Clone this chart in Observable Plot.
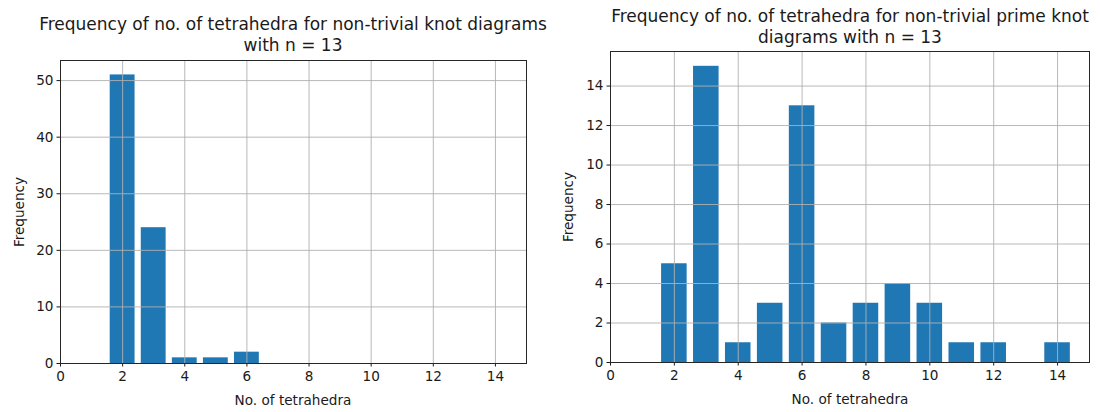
<!DOCTYPE html>
<html><head><meta charset="utf-8">
<script src="https://cdn.jsdelivr.net/npm/d3@7"></script>
<script src="https://cdn.jsdelivr.net/npm/@observablehq/plot@0.6"></script>
<style>
body{margin:0;background:#fff;}
#wrap{position:relative;width:1100px;height:412px;font-family:"DejaVu Sans",sans-serif;color:#1a1a1a;overflow:hidden;}
.panel{position:absolute;top:0;}
.t{position:absolute;text-align:center;font-size:17px;line-height:21px;white-space:pre;transform:translateX(-50%);}
.xl{position:absolute;font-size:13.6px;transform:translate(-50%,-50%);white-space:nowrap;}
.yl{position:absolute;font-size:13.6px;transform:translate(-50%,-50%) rotate(-90deg);white-space:nowrap;}
</style></head><body><div id="wrap"></div>
<script>
const tetrahedraAll = [2, 3, 4, 5, 6];
const freqAll = [51, 24, 1, 1, 2];
const tetrahedraPrime = [2, 3, 4, 5, 6, 7, 8, 9, 10, 11, 12, 14];
const freqPrime = [5, 15, 1, 3, 13, 2, 3, 4, 3, 1, 1, 1];
const xTicks = [0, 2, 4, 6, 8, 10, 12, 14];
const yTicksAll = [0, 10, 20, 30, 40, 50];
const yTicksPrime = [0, 2, 4, 6, 8, 10, 12, 14];
const titleAll = "Frequency of no. of tetrahedra for non-trivial knot diagrams\nwith n = 13";
const titlePrime = "Frequency of no. of tetrahedra for non-trivial prime knot\ndiagrams with n = 13";
const xLabel = "No. of tetrahedra";
const yLabel = "Frequency";

function panel(xs, ys, yTicks, width, ml, mr, mt, mb) {
  const data = xs.map((x, i) => ({x, y: ys[i]}));
  const yMax = d3.max(ys) * 1.05;
  return Plot.plot({
    width, height: 412,
    marginLeft: ml, marginRight: mr, marginTop: mt, marginBottom: mb,
    x: {domain: [0, 15]},
    y: {domain: [0, yMax]},
    style: {fontFamily: "DejaVu Sans", fontSize: "13.6px", color: "#1a1a1a", background: "transparent"},
    marks: [
      Plot.rectY(data, {x1: d => d.x - 0.4, x2: d => d.x + 0.4, y1: 0, y2: "y", fill: "#1f77b4"}),
      Plot.gridX(xTicks, {stroke: "#b0b0b0", strokeOpacity: 1, strokeWidth: 0.9}),
      Plot.gridY(yTicks, {stroke: "#b0b0b0", strokeOpacity: 1, strokeWidth: 0.9}),
      Plot.axisX(xTicks, {tickSize: 3.5, tickPadding: 4.5, label: null, tickFormat: d => String(d)}),
      Plot.axisY(yTicks, {tickSize: 3.5, tickPadding: 3.5, label: null, tickFormat: d => String(d)}),
      Plot.frame({stroke: "#262626", strokeWidth: 1})
    ]
  });
}

const wrap = document.getElementById("wrap");
function add(el, left) { el.classList.add("panel"); el.style.left = left + "px"; wrap.appendChild(el); }
add(panel(tetrahedraAll, freqAll, yTicksAll, 550, 60, 24, 60, 49), 0);
add(panel(tetrahedraPrime, freqPrime, yTicksPrime, 550, 60, 11, 51, 50), 550);

function txt(cls, s, x, y) {
  const d = document.createElement("div");
  d.className = cls; d.textContent = s;
  d.style.left = x + "px"; d.style.top = y + "px";
  wrap.appendChild(d);
}
txt("t", titleAll, 293, 14);
txt("t", titlePrime, 850, 6);
txt("xl", xLabel, 293, 400);
txt("xl", xLabel, 850, 399);
txt("yl", yLabel, 19, 212);
txt("yl", yLabel, 568, 207);
</script></body></html>
